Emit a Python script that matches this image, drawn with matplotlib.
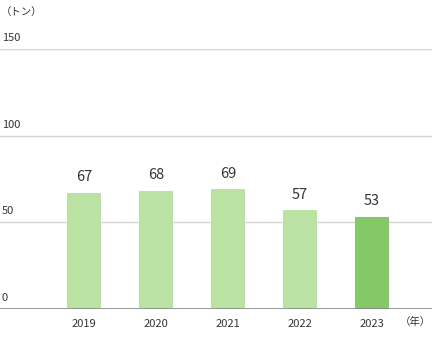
import matplotlib
matplotlib.use("Agg")
import matplotlib.pyplot as plt

plt.rcParams['font.family'] = ['Noto Sans CJK JP', 'DejaVu Sans']

years = ["2019", "2020", "2021", "2022", "2023"]
values = [67, 68, 69, 57, 53]
yticks = [0, 50, 100, 150]
bar_colors = ["#bae2a2", "#bae2a2", "#bae2a2", "#bae2a2", "#84c867"]

W, H = 432, 342
fig = plt.figure(figsize=(W / 100, H / 100), dpi=100)
ax = fig.add_axes([0, 33 / H, 1, 260 / H])

x = list(range(len(years)))
ax.bar(x, values, width=0.46, color=bar_colors, zorder=3)
ax.set_xlim(-84 / 72, (W - 84) / 72)
ax.set_ylim(0, 150)

for t in yticks[1:]:
    ax.axhline(t, color="#d4d4d4", lw=1, zorder=1)
ax.axhline(0, color="#888888", lw=1.2, zorder=4)

for s in ax.spines.values():
    s.set_visible(False)
ax.set_xticks([])
ax.set_yticks([])

text_color = "#333333"
for xi, v in zip(x, values):
    ax.text(xi, v + 5, str(v), ha="center", va="bottom", fontsize=10.5, color=text_color)

for t in yticks:
    ax.text(2 / W, t + 3.5, str(t), transform=ax.get_yaxis_transform(),
            ha="left", va="bottom", fontsize=8, color=text_color)

for xi, y in zip(x, years):
    ax.text(xi, -5.5, y, ha="center", va="top", fontsize=8, color=text_color)

fig.text(431 / W, 1 - 322 / H, "（年）", ha="right", va="center", fontsize=7.5, color=text_color)
fig.text(1 / W, 1 - 12 / H, "（トン）", ha="left", va="center", fontsize=7.5, color=text_color)

fig.savefig("out.png", dpi=100)
